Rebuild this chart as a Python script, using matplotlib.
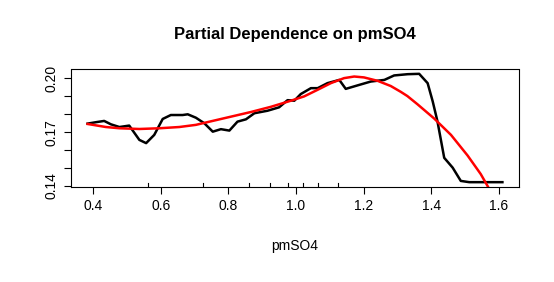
#!/usr/bin/env python3
"""
Partial dependence plot for pmSO4, redrawn in the style of an R gbm plot:
the black line is the partial dependence, the red one a smooth fit, and the
short ticks inside the bottom axis mark the data deciles.
"""
import matplotlib
matplotlib.use('Agg')
import matplotlib.pyplot as plt

# Partial dependence values
pd_x = [0.384, 0.409, 0.433, 0.453, 0.478, 0.507, 0.537, 0.557, 0.581, 0.606,
        0.630, 0.665, 0.680, 0.704, 0.729, 0.754, 0.778, 0.803, 0.827, 0.852,
        0.877, 0.916, 0.950, 0.975, 0.995, 1.014, 1.044, 1.064, 1.093, 1.128,
        1.147, 1.181, 1.221, 1.261, 1.290, 1.330, 1.364, 1.389, 1.404, 1.418,
        1.438, 1.463, 1.487, 1.512, 1.610]
pd_y = [0.1748, 0.1756, 0.1763, 0.1744, 0.1729, 0.1737, 0.1657, 0.1639, 0.1685, 0.1774,
        0.1796, 0.1796, 0.1800, 0.1781, 0.1750, 0.1703, 0.1717, 0.1709, 0.1759, 0.1772,
        0.1806, 0.1820, 0.1839, 0.1879, 0.1876, 0.1913, 0.1946, 0.1946, 0.1974, 0.1992,
        0.1942, 0.1961, 0.1983, 0.1992, 0.2017, 0.2024, 0.2026, 0.1974, 0.1872, 0.1761,
        0.1557, 0.1502, 0.1428, 0.1421, 0.1421]

# Smooth fit (red)
fit_x = [0.384, 0.438, 0.478, 0.537, 0.596, 0.655, 0.704, 0.749, 0.808, 0.867,
         0.926, 0.985, 1.024, 1.064, 1.103, 1.142, 1.172, 1.201, 1.241, 1.280,
         1.310, 1.329, 1.359, 1.408, 1.458, 1.507, 1.546, 1.566, 1.610]
fit_y = [0.1746, 0.1729, 0.1722, 0.1718, 0.1722, 0.1729, 0.1741, 0.1761, 0.1787, 0.1813,
         0.1842, 0.1876, 0.1900, 0.1937, 0.1974, 0.2002, 0.2011, 0.2006, 0.1987, 0.1958,
         0.1925, 0.1902, 0.1856, 0.1777, 0.1685, 0.1570, 0.1466, 0.1400, 0.1235]

# Deciles of pmSO4 (rug)
rug_x = [0.563, 0.726, 0.860, 0.924, 0.975, 1.020, 1.066, 1.123]

x_ticks = [0.4, 0.6, 0.8, 1.0, 1.2, 1.4, 1.6]
y_ticks = [0.14, 0.15, 0.16, 0.17, 0.18, 0.19, 0.20]
y_labels = ['0.14', '', '', '0.17', '', '', '0.20']

FONT = ['Liberation Sans', 'DejaVu Sans']


def r_limits(values):
    # R pads the data range by 4% on each side
    lo, hi = min(values), max(values)
    pad = 0.04 * (hi - lo)
    return lo - pad, hi + pad
# end def: r_limits


def main():
    plt.rcParams['font.family'] = FONT
    fig = plt.figure(figsize=(5.54, 2.82), dpi=100)
    ax = fig.add_axes([71 / 554, 1 - 186.5 / 282, 448 / 554, 117 / 282])

    ax.plot(pd_x, pd_y, color='black', linewidth=1.8, solid_joinstyle='round')
    ax.plot(fit_x, fit_y, color='red', linewidth=1.8, solid_joinstyle='round')

    ax.set_xlim(*r_limits(pd_x))
    ax.set_ylim(*r_limits(pd_y))

    # rug: short ticks pointing into the plot from the bottom edge
    for rx in rug_x:
        ax.axvline(rx, ymin=0, ymax=0.03, color='black', linewidth=0.8)

    ax.set_xticks(x_ticks)
    ax.set_xticklabels(['%.1f' % v for v in x_ticks])
    ax.set_yticks(y_ticks)
    ax.set_yticklabels(y_labels, rotation=90, va='center')
    ax.tick_params(direction='out', length=5, width=0.8, labelsize=10,
                   pad=4, colors='black')

    for spine in ax.spines.values():
        spine.set_linewidth(0.8)

    ax.set_xlabel('pmSO4', fontsize=10, labelpad=19)
    fig.text(295 / 554, 1 - 34 / 282, 'Partial Dependence on pmSO4',
             ha='center', va='center', fontsize=12, fontweight='bold')

    fig.savefig('out.png', dpi=100)
# end def: main


if __name__ == '__main__':
    main()
